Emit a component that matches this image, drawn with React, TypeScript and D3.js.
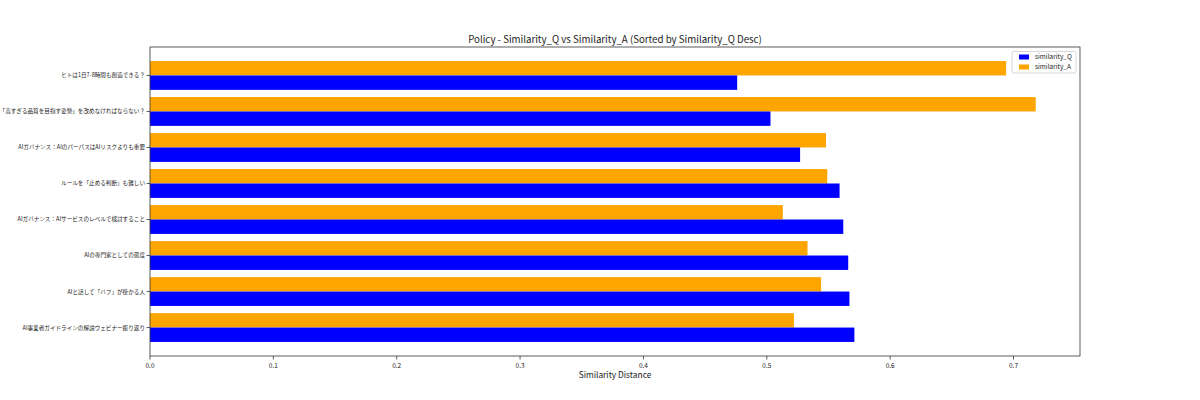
import * as d3 from 'd3';

const categories = [
    'ヒトは1日7-8時間も創造できる？',
    '「高すぎる品質を目指す姿勢」を改めなければならない？',
    'AIガバナンス：AIのパーパスはAIリスクよりも重要',
    'ルールを「止める判断」も難しい',
    'AIガバナンス：AIサービスのレベルで検討すること',
    'AIの専門家としての態度',
    'AIと話して「バフ」が掛かる人',
    'AI事業者ガイドラインの解説ウェビナー振り返り',
];
const similarityQ = [0.476, 0.503, 0.527, 0.559, 0.562, 0.566, 0.567, 0.571];
const similarityA = [0.694, 0.718, 0.548, 0.549, 0.513, 0.533, 0.544, 0.522];
const xTicks = [0, 0.1, 0.2, 0.3, 0.4, 0.5, 0.6, 0.7];

const W = 1200;
const H = 400;
const margin = { top: 47, right: 120, bottom: 44, left: 150 };
const FONT = '"Noto Sans CJK JP", "Noto Sans", sans-serif';

export default function App() {
    const maxVal = d3.max([...similarityQ, ...similarityA])!;
    const x = d3.scaleLinear()
        .domain([0, maxVal * 1.05])
        .range([margin.left, W - margin.right]);

    // matplotlib style: bar half-height 0.4, 5% margins
    const n = categories.length;
    const pad = (n - 1 + 0.8) * 0.05;
    const y = d3.scaleLinear()
        .domain([-0.4 - pad, n - 1 + 0.4 + pad])
        .range([margin.top, H - margin.bottom]);

    const x0 = x(0);
    const bottom = H - margin.bottom;

    return (
        <svg width={W} height={H} style={{ position: 'absolute', left: 0, top: 0 }} fontFamily={FONT}>
            <rect x={0} y={0} width={W} height={H} fill="#fff" />

            {/* Bars */}
            {categories.map((c, i) => (
                <g key={c}>
                    <rect
                        x={x0}
                        y={y(i - 0.4)}
                        width={x(similarityA[i]) - x0}
                        height={y(i) - y(i - 0.4)}
                        fill="#ffa500"
                    />
                    <rect
                        x={x0}
                        y={y(i)}
                        width={x(similarityQ[i]) - x0}
                        height={y(i + 0.4) - y(i)}
                        fill="#0000ff"
                    />
                </g>
            ))}

            {/* Frame */}
            <rect
                x={margin.left}
                y={margin.top}
                width={W - margin.right - margin.left}
                height={bottom - margin.top}
                fill="none"
                stroke="#333"
                strokeWidth={0.8}
            />

            {/* Y ticks */}
            {categories.map((c, i) => (
                <g key={'yt' + i} transform={`translate(${margin.left},${y(i)})`}>
                    <line x1={-3.5} x2={0} stroke="#333" strokeWidth={0.8} />
                    <text x={-5} dy="0.35em" textAnchor="end" fontSize={5.6} fill="#222">
                        {c}
                    </text>
                </g>
            ))}

            {/* X ticks */}
            {xTicks.map(t => (
                <g key={'xt' + t} transform={`translate(${x(t)},${bottom})`}>
                    <line y1={0} y2={3.5} stroke="#333" strokeWidth={0.8} />
                    <text y={11.5} textAnchor="middle" fontSize={6.5} fill="#222">
                        {t.toFixed(1)}
                    </text>
                </g>
            ))}

            <text x={(margin.left + W - margin.right) / 2} y={378} textAnchor="middle" fontSize={8.4} fill="#222">
                Similarity Distance
            </text>

            <text x={(margin.left + W - margin.right) / 2} y={43} textAnchor="middle" fontSize={9.7} fill="#222">
                Policy - Similarity_Q vs Similarity_A (Sorted by Similarity_Q Desc)
            </text>

            {/* Legend */}
            <g transform="translate(1012,51.5)">
                <rect width={64} height={21.5} rx={2} fill="#fff" fillOpacity={0.8} stroke="#ccc" strokeWidth={0.8} />
                <rect x={7} y={3} width={10} height={5} fill="#0000ff" />
                <text x={23} y={5.5} dy="0.35em" fontSize={6.5} fill="#222">similarity_Q</text>
                <rect x={7} y={13} width={10} height={5} fill="#ffa500" />
                <text x={23} y={15.5} dy="0.35em" fontSize={6.5} fill="#222">similarity_A</text>
            </g>
        </svg>
    );
}
